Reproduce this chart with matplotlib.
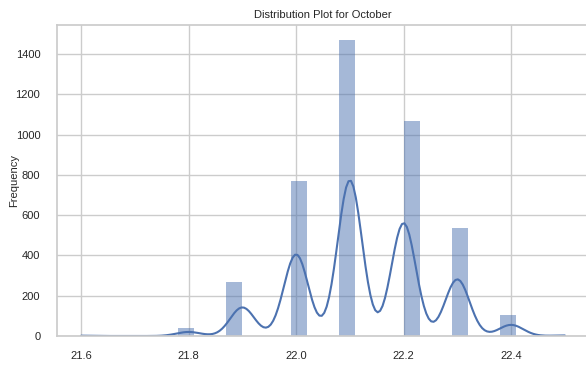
import numpy as np
import pandas as pd
import matplotlib
matplotlib.use("Agg")
import matplotlib.pyplot as plt
import seaborn as sns

# observed temperature values and how often each occurs
values = [21.6, 21.8, 21.9, 22.0, 22.1, 22.2, 22.3, 22.4, 22.5]
counts = [3, 38, 270, 770, 1470, 1066, 535, 105, 5]

df = pd.DataFrame({'Values': np.repeat(values, counts)})

sns.set_theme(style='whitegrid')
plt.rcParams['font.family'] = ['Liberation Sans', 'DejaVu Sans']

fig = plt.figure(figsize=(5.86, 3.65), dpi=100)
ax = fig.add_axes([57/586, 29/365, 532/586, 311/365])

sns.histplot(df['Values'], bins=30, kde=True, ax=ax, color='#4c72b0', edgecolor='none')

ax.set_title('Distribution Plot for October', fontsize=8, pad=5)
ax.set_xlabel('Values', fontsize=8, labelpad=3)
ax.set_ylabel('Frequency', fontsize=8)
ax.yaxis.set_label_coords(-0.072, 0.5)
ax.tick_params(axis='x', labelsize=8, pad=5)
ax.tick_params(axis='y', labelsize=8, pad=6)
ax.set_xticks([21.6, 21.8, 22.0, 22.2, 22.4])
ax.set_yticks(range(0, 1600, 200))

fig.savefig('out.png', dpi=100)
